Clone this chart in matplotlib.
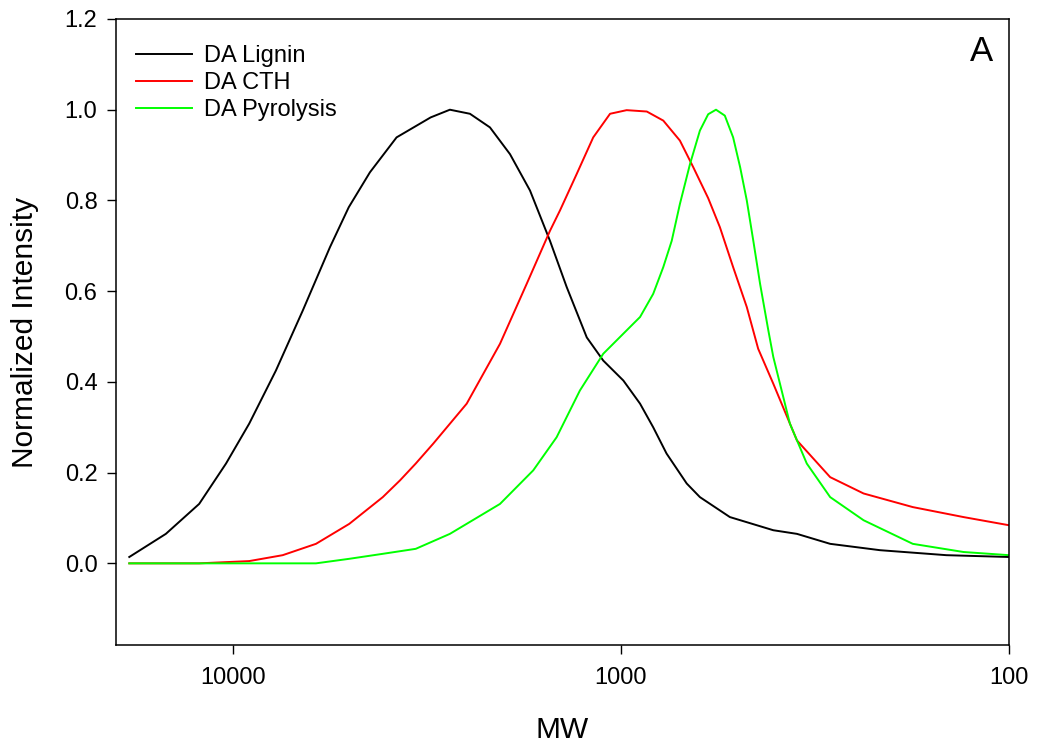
import matplotlib
matplotlib.use("Agg")
import matplotlib.pyplot as plt
from matplotlib.ticker import FixedLocator, NullLocator, FixedFormatter

plt.rcParams['font.family'] = ['Liberation Sans', 'DejaVu Sans']

# molecular weight (Da) and normalized GPC intensity for each sample
lignin_mw = [18500, 14890, 12220, 10420, 9080, 7750, 6610, 5623, 5030, 4436,
             3787, 3094, 2760, 2450, 2176, 1932, 1716, 1524, 1380, 1225, 1111,
             986, 893, 826, 763, 677, 626, 524, 405, 352, 289, 215, 145, 100]
lignin_int = [0.014, 0.065, 0.131, 0.220, 0.308, 0.425, 0.557, 0.697, 0.785, 0.862,
              0.939, 0.983, 1.000, 0.991, 0.961, 0.902, 0.822, 0.711, 0.609, 0.498, 0.447,
              0.403, 0.352, 0.300, 0.242, 0.176, 0.146, 0.102, 0.073, 0.065, 0.043, 0.029, 0.018, 0.014]

cth_mw = [18500, 12220, 9080, 7445, 6110, 5015, 4110, 3710, 3380, 3046, 2498,
          2050, 1750, 1524, 1436, 1301, 1179, 1067, 967, 858, 778, 705, 651, 596,
          556, 514, 474, 443, 405, 352, 289, 237, 177, 131, 100]
cth_int = [0.0, 0.0, 0.005, 0.018, 0.043, 0.087, 0.146, 0.183, 0.220, 0.264, 0.352,
           0.484, 0.616, 0.733, 0.778, 0.858, 0.939, 0.991, 0.999, 0.996, 0.976, 0.932, 0.873, 0.805,
           0.741, 0.653, 0.565, 0.473, 0.396, 0.271, 0.190, 0.154, 0.124, 0.102, 0.084]

pyro_mw = [18500, 9080, 6110, 5015, 4110, 3380, 2760, 2050, 1683, 1465, 1276,
           1111, 930, 893, 826, 778, 740, 705, 664, 626, 596, 569, 540, 514,
           493, 474, 456, 438, 417, 405, 367, 332, 289, 237, 177, 131, 100]
pyro_int = [0.0, 0.0, 0.0, 0.010, 0.021, 0.032, 0.065, 0.131, 0.205, 0.278, 0.381,
            0.462, 0.528, 0.543, 0.594, 0.653, 0.711, 0.792, 0.880, 0.954, 0.990, 1.000, 0.987, 0.939,
            0.873, 0.800, 0.711, 0.616, 0.513, 0.455, 0.308, 0.220, 0.146, 0.095, 0.043, 0.025, 0.018]

x_ticks = [10000, 1000, 100]
x_ticklabels = ['10000', '1000', '100']
y_ticks = [0.0, 0.2, 0.4, 0.6, 0.8, 1.0, 1.2]

fig = plt.figure(figsize=(10.37, 7.5), dpi=100)
ax = fig.add_axes([0.112, 0.14, 0.861, 0.8347])

ax.plot(lignin_mw, lignin_int, '-', color='black', lw=1.4, label='DA Lignin')
ax.plot(cth_mw, cth_int, '-', color='#ff0000', lw=1.4, label='DA CTH')
ax.plot(pyro_mw, pyro_int, '-', color='#00ff00', lw=1.4, label='DA Pyrolysis')

ax.set_xscale('log')
ax.set_xlim(20000, 100)
ax.set_ylim(-0.18, 1.2)

ax.xaxis.set_major_locator(FixedLocator(x_ticks))
ax.xaxis.set_major_formatter(FixedFormatter(x_ticklabels))
ax.xaxis.set_minor_locator(NullLocator())
ax.set_yticks(y_ticks)
ax.set_yticklabels(['%.1f' % v for v in y_ticks])

ax.tick_params(direction='out', length=6.5, width=1, labelsize=17)
ax.tick_params(axis='x', pad=9.5)
ax.tick_params(axis='y', pad=7)
for s in ax.spines.values():
    s.set_linewidth(1.1)

ax.set_xlabel('MW', fontsize=21.5, labelpad=19)
ax.set_ylabel('Normalized Intensity', fontsize=21.5, labelpad=18.5)

ax.text(0.982, 0.974, 'A', transform=ax.transAxes, fontsize=25,
        ha='right', va='top')

ax.legend(loc='upper left', bbox_to_anchor=(-0.002, 0.992), frameon=False,
          fontsize=17, handlelength=2.4, handletextpad=0.5, labelspacing=0.21,
          borderaxespad=0.5)

fig.savefig('out.png', dpi=100)
